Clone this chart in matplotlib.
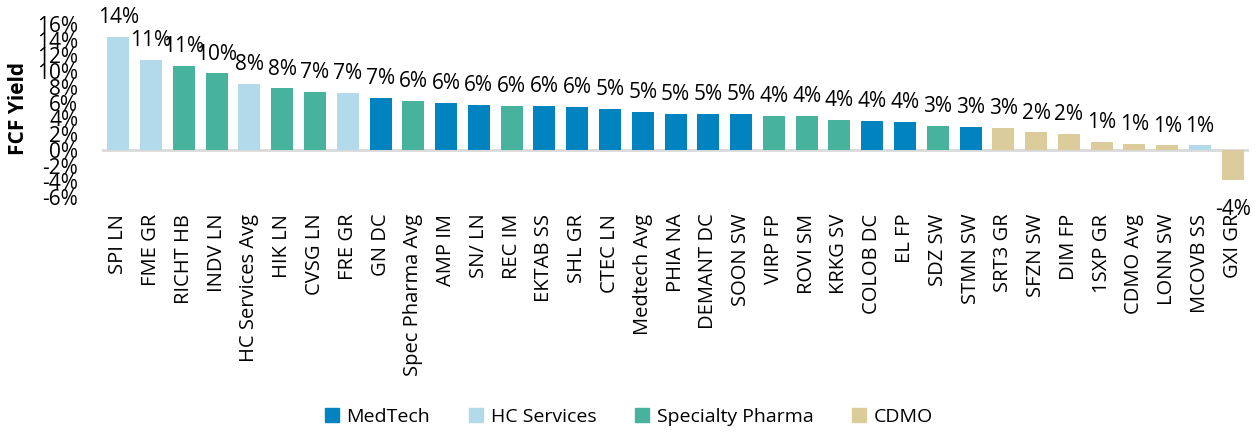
import matplotlib
matplotlib.use("Agg")
import matplotlib.pyplot as plt
from matplotlib.patches import Patch
from matplotlib.ticker import PercentFormatter

plt.rcParams["font.family"] = ["Open Sans", "DejaVu Sans"]
plt.rcParams["axes.unicode_minus"] = False

TICKERS = ["SPI LN", "FME GR", "RICHT HB", "INDV LN", "HC Services Avg", "HIK LN",
           "CVSG LN", "FRE GR", "GN DC", "Spec Pharma Avg", "AMP IM", "SN/ LN",
           "REC IM", "EKTAB SS", "SHL GR", "CTEC LN", "Medtech Avg", "PHIA NA",
           "DEMANT DC", "SOON SW", "VIRP FP", "ROVI SM", "KRKG SV", "COLOB DC",
           "EL FP", "SDZ SW", "STMN SW", "SRT3 GR", "SFZN SW", "DIM FP",
           "1SXP GR", "CDMO Avg", "LONN SW", "MCOVB SS", "GXI GR"]
FCF_YIELD = [14.3, 11.4, 10.7, 9.7, 8.4, 7.8, 7.3, 7.2, 6.6, 6.2, 6.0, 5.7,
             5.6, 5.6, 5.5, 5.2, 4.8, 4.6, 4.55, 4.55, 4.3, 4.3, 3.8, 3.7,
             3.5, 3.0, 2.95, 2.8, 2.2, 2.0, 1.05, 0.8, 0.55, 0.55, -3.8]
SECTOR = ["HC", "HC", "SP", "SP", "HC", "SP", "SP", "HC", "MT", "SP", "MT", "MT",
          "SP", "MT", "MT", "MT", "MT", "MT", "MT", "MT", "SP", "SP", "SP", "MT",
          "MT", "SP", "MT", "CD", "CD", "CD", "CD", "CD", "CD", "HC", "CD"]

SECTORS = {"MT": ("MedTech", "#0083be"),
           "HC": ("HC Services", "#b2daeb"),
           "SP": ("Specialty Pharma", "#47b39c"),
           "CD": ("CDMO", "#ddcc9b")}

fig = plt.figure(figsize=(12.58, 4.34), dpi=100)
ax = fig.add_axes([0.081, 0.546, 0.912, 0.399])

x = range(len(TICKERS))
cols = [SECTORS[s][1] for s in SECTOR]
ax.bar(x, FCF_YIELD, width=0.67, color=cols, zorder=2)
ax.axhline(0, color="#d9d9d9", lw=2, zorder=1)

# data labels: above positive bars, below the negative one
for i, v in enumerate(FCF_YIELD):
    if v >= 0:
        ax.annotate(f"{v:.0f}%", (i, v), xytext=(0, 10), textcoords="offset points",
                    ha="center", va="baseline", fontsize=15)
    else:
        ax.annotate(f"{v:.0f}%", (i, v), xytext=(0, -14), textcoords="offset points",
                    ha="center", va="top", fontsize=15)

ax.set_xlim(-0.5, len(TICKERS) - 0.5)
ax.set_ylim(-6, 16)
ax.set_yticks(range(-6, 17, 2))
ax.yaxis.set_major_formatter(PercentFormatter(decimals=0))
ax.tick_params(axis="y", length=0, labelsize=15, pad=17)
ax.set_xticks(list(x))
ax.set_xticklabels(TICKERS, rotation=90, fontsize=14.5)
ax.tick_params(axis="x", length=0, pad=12)
for s in ax.spines.values():
    s.set_visible(False)

fig.text(0.015, 0.75, "FCF Yield", rotation=90, ha="center", va="center",
         fontsize=15, fontweight="bold")

handles = [Patch(color=c, label=n) for n, c in SECTORS.values()]
fig.legend(handles=handles, loc="center", bbox_to_anchor=(0.5, 0.04), ncol=4,
           frameon=False, fontsize=14, handlelength=0.7, handleheight=0.7,
           handletextpad=0.4, columnspacing=2.0)

fig.savefig("out.png", dpi=100)
